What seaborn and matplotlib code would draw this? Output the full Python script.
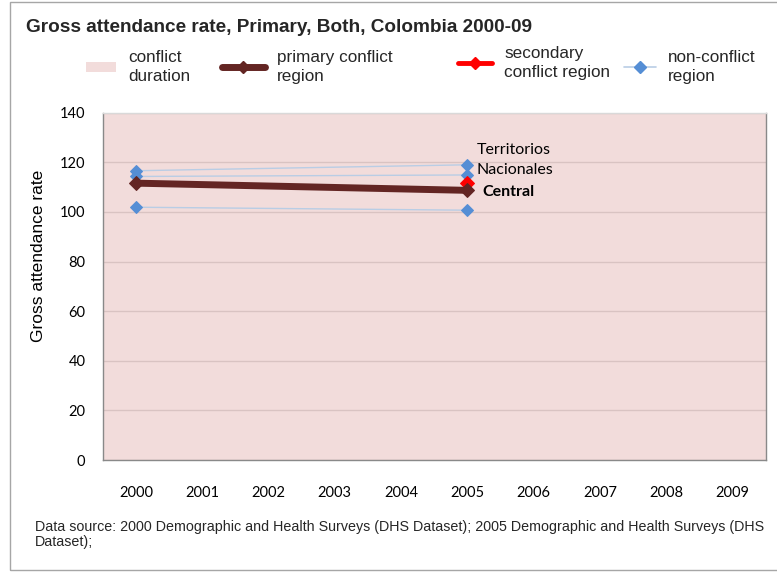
import matplotlib
matplotlib.use("Agg")
import matplotlib.pyplot as plt
from matplotlib.lines import Line2D
from matplotlib.patches import Patch, Rectangle
import seaborn as sns
import pandas as pd

# ---- data ---------------------------------------------------------------
years = ["2000", "2001", "2002", "2003", "2004", "2005", "2006", "2007", "2008", "2009"]
conflict_years = ["2000", "2009"]          # conflict spans the whole period

primary_region = "Central"
primary_years = ["2000", "2005"]
primary_values = [111.6, 108.7]

secondary_region = "Pacífica"
secondary_years = ["2005"]
secondary_values = [111.6]

nonconflict_regions = ["Territorios Nacionales", "Oriental", "Atlántica"]
nonconflict_years = ["2000", "2005"]
nonconflict_values = [[116.6, 119.0], [114.3, 114.9], [101.9, 100.7]]

labelled = {"Territorios Nacionales": "Territorios\nNacionales", "Central": "Central"}

# ---- tidy frame ---------------------------------------------------------
rows = []
for y, v in zip(primary_years, primary_values):
    rows.append(dict(region=primary_region, kind="primary", year=y, value=v))
for y, v in zip(secondary_years, secondary_values):
    rows.append(dict(region=secondary_region, kind="secondary", year=y, value=v))
for r, vals in zip(nonconflict_regions, nonconflict_values):
    for y, v in zip(nonconflict_years, vals):
        rows.append(dict(region=r, kind="non", year=y, value=v))
df = pd.DataFrame(rows)
df["x"] = df["year"].map({y: i for i, y in enumerate(years)})

# ---- style --------------------------------------------------------------
sns.set_theme(style="white")
arial_like = ["Liberation Sans", "DejaVu Sans"]
calibri_like = ["Lato", "DejaVu Sans"]
plt.rcParams["font.family"] = calibri_like

BG = "#F2DCDB"
GRID = "#D9C3C2"
DARK = "#632523"
RED = "#FF0000"
BLUE = "#558ED5"
BLUE_LINE = "#B9CDE5"
AXIS = "#898989"

W, H = 777, 574
fig = plt.figure(figsize=(W / 100, H / 100), dpi=100)
ax = fig.add_axes([102.7 / W, 1 - 460 / H, (765.7 - 102.7) / W, (460 - 112.7) / H])
ax.set_facecolor("white")

# conflict duration band
x0 = years.index(conflict_years[0]) - 0.5
x1 = years.index(conflict_years[1]) + 0.5
ax.axvspan(x0, x1, color=BG, zorder=0, lw=0)

ax.set_xlim(-0.5, len(years) - 0.5)
ax.set_ylim(0, 140)
ax.set_yticks(range(0, 141, 20))
ax.yaxis.grid(True, color=GRID, lw=1.0, zorder=1)
ax.set_axisbelow(True)

# non-conflict regions
non = df[df.kind == "non"]
sns.lineplot(data=non, x="x", y="value", units="region", estimator=None,
             color=BLUE_LINE, lw=1.0, marker="D", markersize=6.5,
             markerfacecolor=BLUE, markeredgecolor=BLUE, ax=ax, zorder=3, legend=False)

# primary conflict region
pri = df[df.kind == "primary"]
sns.lineplot(data=pri, x="x", y="value", color=DARK, lw=5.0, marker="D", markersize=7,
             markerfacecolor=DARK, markeredgecolor=DARK, ax=ax, zorder=5, legend=False)

# secondary conflict region
sec = df[df.kind == "secondary"]
sns.lineplot(data=sec, x="x", y="value", color=RED, lw=3.0, marker="D", markersize=7,
             markerfacecolor=RED, markeredgecolor=RED, ax=ax, zorder=4, legend=False)

# end-of-line labels
for region, text in labelled.items():
    sub = df[df.region == region].sort_values("x").iloc[-1]
    bold = region == primary_region
    offset = (11, -1.0) if bold else (6.5, 3.3)
    ax.annotate(text, (sub.x, sub.value), xytext=offset,
                textcoords="offset points", ha="left", va="center",
                fontsize=11.5, fontweight="bold" if bold else "normal",
                color="black", family=calibri_like, linespacing=1.55, zorder=6)

# axes cosmetics
ax.set_xticks(range(len(years)))
ax.set_xticklabels(years)
ax.set_xticks([i + 0.5 for i in range(len(years) - 1)], minor=True)
ax.tick_params(axis="x", which="major", length=0, pad=19, labelsize=10.5, labelcolor="black")
ax.tick_params(axis="x", which="minor", length=4, direction="in", color=AXIS, width=1)
ax.tick_params(axis="y", length=0, pad=12.5, labelsize=10.5, labelcolor="black")
for lab in ax.get_xticklabels() + ax.get_yticklabels():
    lab.set_family(calibri_like)

for side in ["left", "bottom", "right"]:
    ax.spines[side].set_color(AXIS)
    ax.spines[side].set_linewidth(1.0)
ax.spines["top"].set_color("#D9D9D9")
ax.spines["top"].set_linewidth(1.0)

ax.set_xlabel("")
ax.set_ylabel("Gross attendance rate", fontsize=12.5, family=arial_like, color="black")
ax.yaxis.set_label_coords(-0.0855, 0.587)

# title
fig.text(26 / W, 1 - 32 / H, "Gross attendance rate, Primary, Both, Colombia 2000-09",
         fontsize=13.65, fontweight="bold", family=arial_like, va="baseline", ha="left")

# legend: one entry per block, laid out left to right
legend_items = [
    (Patch(facecolor=BG, edgecolor="none"), "conflict\nduration", 86, 67, 1.75),
    (Line2D([], [], color=DARK, lw=5, marker="D", markersize=6, markerfacecolor=DARK,
            markeredgecolor=DARK), "primary conflict\nregion", 222, 67, 2.5),
    (Line2D([], [], color=RED, lw=3.5, marker="D", markersize=6, markerfacecolor=RED,
            markeredgecolor=RED), "secondary\nconflict region", 458, 63, 2.0),
    (Line2D([], [], color=BLUE_LINE, lw=1.2, marker="D", markersize=6,
            markerfacecolor=BLUE, markeredgecolor=BLUE), "non-conflict\nregion", 624, 67, 1.85),
]
for handle, label, x, y, hl in legend_items:
    leg = fig.legend([handle], [label], loc="center left", bbox_to_anchor=(x / W, 1 - y / H),
                     frameon=False, borderpad=0, borderaxespad=0, handlelength=hl,
                     handleheight=0.55, handletextpad=0.7, labelspacing=0,
                     prop={"family": arial_like, "size": 12.3})
    for t in leg.get_texts():
        t.set_linespacing(1.35)

# source note
fig.text(35 / W, 1 - 546 / H,
         "Data source: 2000 Demographic and Health Surveys (DHS Dataset); 2005 Demographic and Health Surveys (DHS\nDataset);",
         fontsize=10.25, family=arial_like, va="baseline", ha="left", linespacing=1.1)

# outer chart border
fig.patches.append(Rectangle((9.5 / W, 1 - 570 / H), 1.0, (570 - 1.5) / H,
                             transform=fig.transFigure, fill=False, edgecolor="#A6A6A6",
                             lw=1.0, zorder=-1))

fig.savefig("out.png", dpi=100, facecolor="white")
